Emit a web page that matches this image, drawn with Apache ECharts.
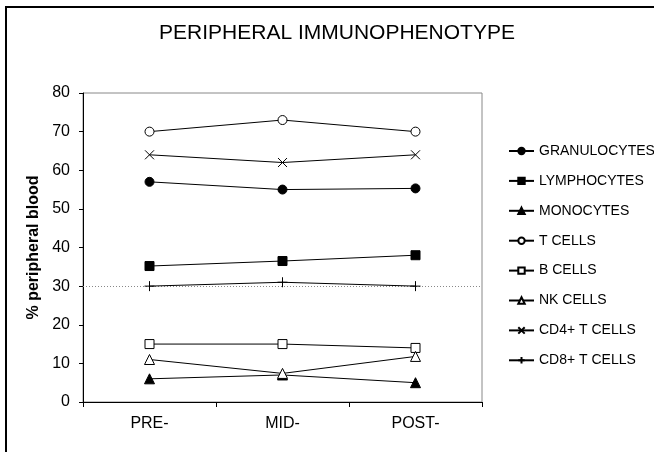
<!DOCTYPE html>
<html>
<head>
<meta charset="utf-8">
<script src="https://cdn.jsdelivr.net/npm/echarts@6/dist/echarts.min.js"></script>
<style>html,body{margin:0;padding:0;background:#fff}#c{width:654px;height:452px}</style>
</head>
<body>
<div id="c"></div>
<script>
const categories = ['PRE-', 'MID-', 'POST-'];
const seriesNames = ['GRANULOCYTES', 'LYMPHOCYTES', 'MONOCYTES', 'T CELLS', 'B CELLS', 'NK CELLS', 'CD4+ T CELLS', 'CD8+ T CELLS'];
const granulocytes = [57, 55, 55.3];
const lymphocytes = [35.2, 36.5, 38];
const monocytes = [6, 7, 5];
const tCells = [70, 73, 70];
const bCells = [15, 15, 14];
const nkCells = [11, 7.4, 11.8];
const cd4Cells = [64, 62, 64];
const cd8Cells = [30, 31, 30];
const yTicks = [0, 10, 20, 30, 40, 50, 60, 70, 80];

const FONT = 'Liberation Sans, Arial, sans-serif';
const values = [granulocytes, lymphocytes, monocytes, tCells, bCells, nkCells, cd4Cells, cd8Cells];
const symbols = ['circle', 'rect', 'triangle', 'circle', 'rect', 'triangle',
  'path://M0,0L10,10M10,0L0,10', 'path://M5,0L5,10M0,5L10,5'];
const filled = [true, true, true, false, false, false, null, null];
const sizes = [9, 9, 10, 9, 9, 10, 9, 10];

const series = seriesNames.map((name, i) => {
  const s = {
    name: name,
    type: 'line',
    data: values[i],
    symbol: symbols[i],
    symbolSize: sizes[i],
    showAllSymbol: true,
    lineStyle: { color: '#000', width: 1 },
    itemStyle: filled[i] === true ? { color: '#000', borderColor: '#000', borderWidth: 1 }
      : filled[i] === false ? { color: '#fff', borderColor: '#000', borderWidth: 1 }
      : { color: 'rgba(0,0,0,0)', borderColor: '#000', borderWidth: 1 },
    emphasis: { disabled: true },
    animation: false,
    z: 3
  };
  if (i === 7) {
    s.markLine = {
      silent: true,
      symbol: 'none',
      label: { show: false },
      lineStyle: { color: '#888', type: [1, 2], width: 1 },
      data: [{ yAxis: 30 }],
      animation: false,
      z: 1
    };
  }
  return s;
});

const chart = echarts.init(document.getElementById('c'), null, { renderer: 'canvas' });
chart.setOption({
  animation: false,
  backgroundColor: '#fff',
  title: {
    text: 'PERIPHERAL IMMUNOPHENOTYPE',
    left: 332, textAlign: 'center', top: 18,
    textStyle: { fontFamily: FONT, fontSize: 21, fontWeight: 'normal', color: '#000' }
  },
  graphic: [{
    type: 'rect', shape: { x: 6, y: 7, width: 720, height: 520 },
    style: { fill: 'none', stroke: '#000', lineWidth: 2 }, silent: true
  }],
  legend: {
    orient: 'vertical', left: 503, top: 139,
    itemWidth: 25, itemHeight: 8, itemGap: 15.9,
    textStyle: { fontFamily: FONT, fontSize: 14, lineHeight: 14, color: '#000' },
    data: seriesNames
  },
  grid: {
    left: 83, right: 172, top: 93, bottom: 50,
    show: true, borderColor: '#888', borderWidth: 1, backgroundColor: '#fff'
  },
  xAxis: {
    type: 'category', data: categories, boundaryGap: true,
    axisLine: { lineStyle: { color: '#000', width: 1 } },
    axisTick: { show: true, length: 5, lineStyle: { color: '#000' } },
    axisLabel: { fontFamily: FONT, fontSize: 16, color: '#000', margin: 14 },
    splitLine: { show: false }
  },
  yAxis: {
    type: 'value', min: yTicks[0], max: yTicks[yTicks.length - 1], interval: 10,
    name: '% peripheral blood', nameLocation: 'middle', nameGap: 40,
    nameTextStyle: { fontFamily: FONT, fontSize: 16, fontWeight: 'bold', color: '#000' },
    axisLine: { show: true, lineStyle: { color: '#000', width: 1 } },
    axisTick: { show: true, length: 4, lineStyle: { color: '#000' } },
    axisLabel: { fontFamily: FONT, fontSize: 16, color: '#000', margin: 13 },
    splitLine: { show: false }
  },
  series: series
});
</script>
</body>
</html>
